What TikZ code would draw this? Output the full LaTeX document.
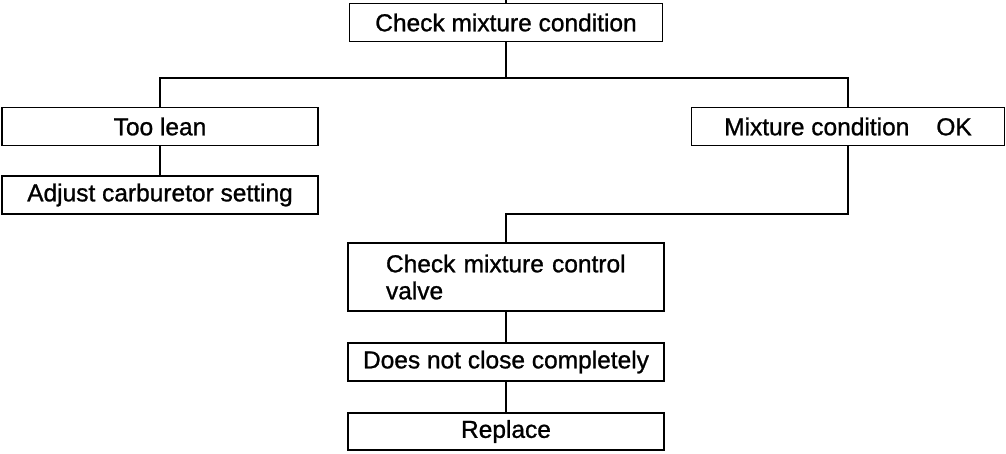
\documentclass[tikz,border=0pt]{standalone}
\usepackage{fontspec}
\setmainfont{Liberation Sans}
\newfontfamily\hvfont{Liberation Sans}[FakeBold=1.0]
\begin{document}
\begin{tikzpicture}[x=1pt,y=-1pt,
  every path/.style={line width=1.3pt},
  box/.style={draw, line width=1.3pt, inner sep=0pt, align=center,
    font=\hvfont\fontsize{24.5}{27}\selectfont},
  wide/.style={box, minimum width=316pt, minimum height=38.5pt}
]
\useasboundingbox (0,0) rectangle (1006,453);
\coordinate (start) at (506,0);
\node[wide, minimum width=313pt] (top) at (506,22.5) {Check mixture condition};
\node[wide] (lean) at (160,126.5) {Too lean};
\node[wide, minimum height=38pt] (adj) at (160,195) {Adjust carburetor setting};
\node[wide, minimum width=313pt] (ok) at (848,126.5) {Mixture condition\hspace{27pt}OK};
\node[box, minimum height=68pt, text width=240pt, inner xsep=38pt, align=left] (cmcv) at (506,277) {Check mixture control\\valve};
\node[wide, minimum height=38pt] (dnc) at (506,362) {Does not close completely};
\node[wide, minimum height=37pt] (rep) at (506,431.5) {Replace};
\coordinate (j1) at (506,78);
\coordinate (j2) at (848,214);
\draw (start) -- (top.north);
\draw (top.south) -- (j1);
\draw (lean.north) |- (j1) -| (ok.north);
\draw (lean) -- (adj);
\draw (ok.south) -- (j2) -| (cmcv.north);
\draw (cmcv) -- (dnc);
\draw (dnc) -- (rep);
\end{tikzpicture}
\end{document}
